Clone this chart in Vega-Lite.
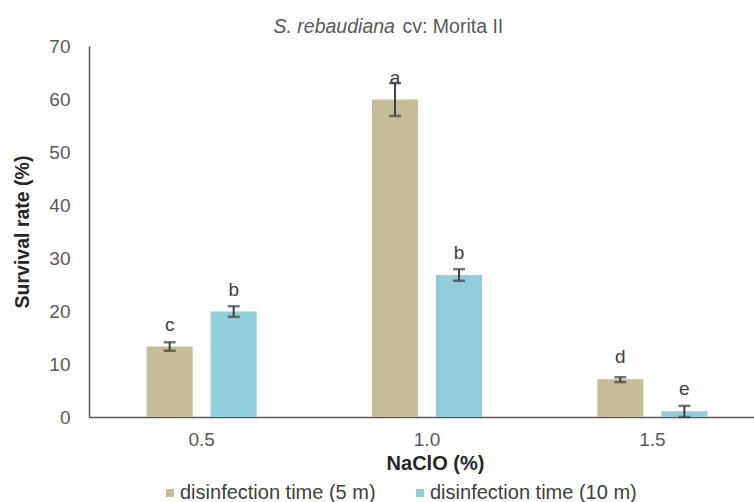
{
  "$schema": "https://vega.github.io/schema/vega-lite/v6.json",
  "autosize": "none",
  "width": 665,
  "height": 371,
  "padding": {"left": 89, "top": 46, "right": 0, "bottom": 85},
  "background": "white",
  "config": {
    "font": "Liberation Sans",
    "view": {"stroke": null},
    "axis": {"grid": false, "ticks": false, "tickSize": 0, "labelFont": "Liberation Sans", "titleFont": "Liberation Sans"},
    "legend": {"labelFont": "Liberation Sans"},
    "text": {"font": "Liberation Sans"}
  },
  "data": {
    "values": [
      {"naclo": "0.5", "time": "disinfection time (5 m)", "rate": 13.3, "lo": 12.5, "hi": 14.1, "letter": "c"},
      {"naclo": "0.5", "time": "disinfection time (10 m)", "rate": 19.9, "lo": 18.9, "hi": 20.9, "letter": "b"},
      {"naclo": "1.0", "time": "disinfection time (5 m)", "rate": 59.9, "lo": 56.8, "hi": 63.0, "letter": "a"},
      {"naclo": "1.0", "time": "disinfection time (10 m)", "rate": 26.8, "lo": 25.7, "hi": 27.9, "letter": "b"},
      {"naclo": "1.5", "time": "disinfection time (5 m)", "rate": 7.1, "lo": 6.6, "hi": 7.5, "letter": "d"},
      {"naclo": "1.5", "time": "disinfection time (10 m)", "rate": 1.1, "lo": 0.0, "hi": 2.1, "letter": "e"}
    ]
  },
  "resolve": {"axis": {"x": "independent", "y": "independent"}},
  "layer": [
    {
      "mark": {"type": "bar"},
      "encoding": {
        "x": {
          "field": "naclo", "type": "nominal", "sort": ["0.5", "1.0", "1.5"],
          "scale": {"type": "band", "range": [0, 676], "paddingInner": 0, "paddingOuter": 0},
          "axis": {"orient": "bottom", "title": "NaClO (%)", "labelAngle": 0, "labelFontSize": 19, "labelColor": "#595959", "labelPadding": 13,
                   "domainColor": "#595959", "domainWidth": 1.5, "titleFontSize": 20, "titleFontWeight": "bold", "titleColor": "#262626", "titlePadding": 4, "titleX": 346}
        },
        "xOffset": {
          "field": "time", "type": "nominal", "sort": ["disinfection time (5 m)", "disinfection time (10 m)"],
          "scale": {"paddingInner": 0.28, "paddingOuter": 0.9}
        },
        "y": {
          "field": "rate", "type": "quantitative",
          "scale": {"domain": [0, 70], "nice": false},
          "axis": {"orient": "left", "title": "Survival rate (%)", "values": [0, 10, 20, 30, 40, 50, 60, 70], "labelFontSize": 19, "labelColor": "#595959", "labelPadding": 19,
                   "domainColor": "#595959", "domainWidth": 1.5, "titleFontSize": 19.5, "titleFontWeight": "bold", "titleColor": "#262626", "titlePadding": 16}
        },
        "color": {
          "field": "time", "type": "nominal", "sort": ["disinfection time (5 m)", "disinfection time (10 m)"],
          "scale": {"range": ["#C4BD97", "#92CDDC"]},
          "legend": {"orient": "none", "legendX": 71, "legendY": 437, "direction": "horizontal", "title": null, "symbolType": "square", "symbolSize": 64,
                     "symbolStrokeWidth": 0, "labelFontSize": 20, "labelColor": "#404040", "labelOffset": 0, "labelLimit": 0, "columnPadding": 34}
        }
      }
    },
    {
      "mark": {"type": "rule", "color": "#404040", "strokeWidth": 2},
      "encoding": {
        "x": {
          "field": "naclo", "type": "nominal", "sort": ["0.5", "1.0", "1.5"],
          "axis": {"orient": "top", "title": "cv: Morita II", "labels": false, "domain": false, "ticks": false,
                   "titleFontSize": 19.5, "titleFontWeight": "normal", "titleColor": "#595959", "titleX": 313, "titleY": -14, "titleAlign": "left", "titleBaseline": "alphabetic", "titleAnchor": null}
        },
        "xOffset": {"field": "time", "type": "nominal", "sort": ["disinfection time (5 m)", "disinfection time (10 m)"]},
        "y": {"field": "lo", "type": "quantitative", "axis": null},
        "y2": {"field": "hi"}
      }
    },
    {
      "mark": {"type": "tick", "color": "#404040", "size": 12, "thickness": 2.5, "orient": "horizontal"},
      "encoding": {
        "x": {"field": "naclo", "type": "nominal", "sort": ["0.5", "1.0", "1.5"], "axis": null},
        "xOffset": {"field": "time", "type": "nominal", "sort": ["disinfection time (5 m)", "disinfection time (10 m)"]},
        "y": {
          "field": "hi", "type": "quantitative",
          "axis": {"orient": "right", "title": "S. rebaudiana", "labels": false, "domain": false, "ticks": false,
                   "titleFontSize": 19.5, "titleFontStyle": "italic", "titleFontWeight": "normal", "titleColor": "#595959",
                   "titleAngle": 0, "titleX": -481, "titleY": -14, "titleAlign": "left", "titleBaseline": "alphabetic", "titleAnchor": null}
        }
      }
    },
    {
      "mark": {"type": "tick", "color": "#404040", "size": 12, "thickness": 2.5, "orient": "horizontal"},
      "encoding": {
        "x": {"field": "naclo", "type": "nominal", "sort": ["0.5", "1.0", "1.5"], "axis": null},
        "xOffset": {"field": "time", "type": "nominal", "sort": ["disinfection time (5 m)", "disinfection time (10 m)"]},
        "y": {"field": "lo", "type": "quantitative", "axis": null}
      }
    },
    {
      "mark": {"type": "text", "fontSize": 19, "color": "#404040", "baseline": "middle", "dy": -22},
      "encoding": {
        "x": {"field": "naclo", "type": "nominal", "sort": ["0.5", "1.0", "1.5"], "axis": null},
        "xOffset": {"field": "time", "type": "nominal", "sort": ["disinfection time (5 m)", "disinfection time (10 m)"]},
        "y": {"field": "rate", "type": "quantitative", "axis": null},
        "text": {"field": "letter"}
      }
    }
  ]
}
